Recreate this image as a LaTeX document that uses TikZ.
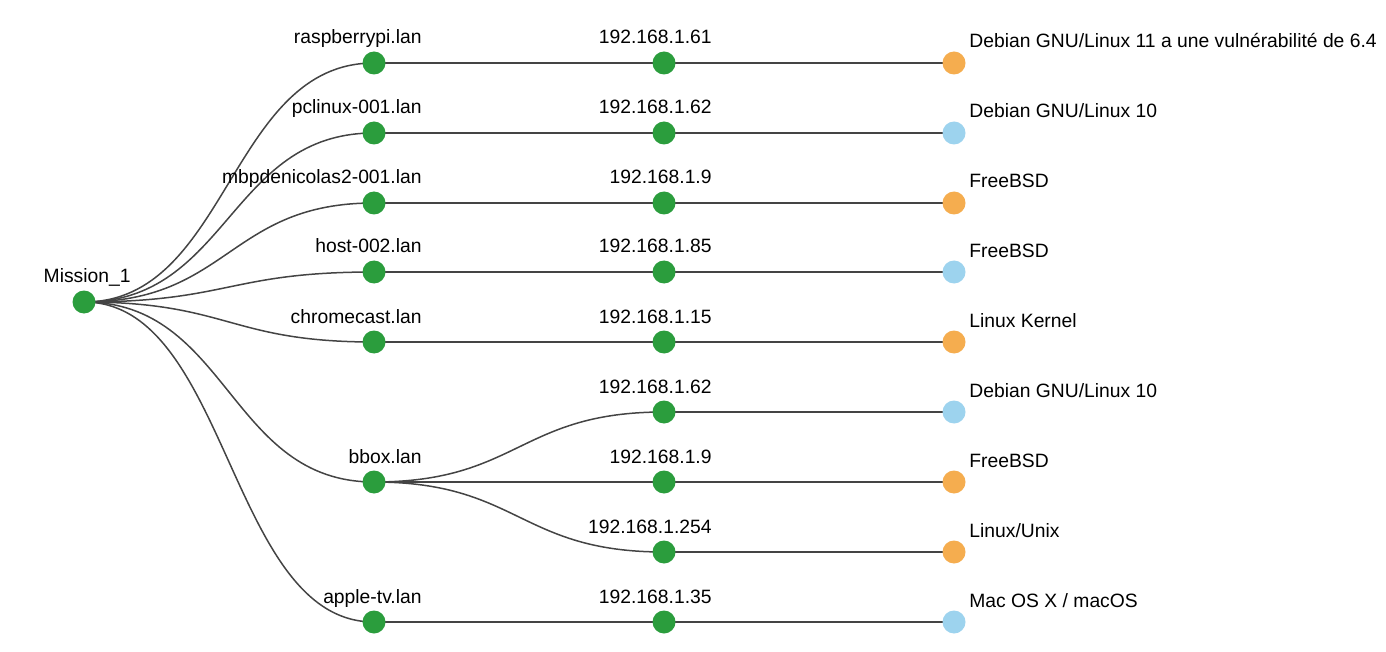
\documentclass[tikz,border=0pt]{standalone}
\usepackage{fontspec}
\setmainfont{Liberation Sans}
\usetikzlibrary{backgrounds,calc}
\definecolor{nodegreen}{HTML}{2B9D3D}
\definecolor{warnorange}{HTML}{F5AD4F}
\definecolor{infoblue}{HTML}{9DD3EE}
\definecolor{linkgray}{HTML}{444444}
\tikzset{
	dot/.style={circle, inner sep=0pt, minimum size=11.5pt},
	host/.style={dot, fill=nodegreen},
	warn/.style={dot, fill=warnorange},
	info/.style={dot, fill=infoblue},
	link/.style={draw=linkgray, line width=0.75pt},
	lbl/.style={anchor=base east, inner sep=0pt},
	oslbl/.style={anchor=base west, inner sep=0pt}
}
\newcommand{\treelink}[2]{%
	\draw[link] let \p1=(#1.center), \p2=(#2.center) in
		(\p1) .. controls ({(\x1+\x2)/2},\y1) and ({(\x1+\x2)/2},\y2) .. (\p2);}
\begin{document}
\begin{tikzpicture}[x=0.5pt, y=-0.5pt, font=\fontsize{9.65}{11}\selectfont]
	\useasboundingbox (0,0) rectangle (1386,652);
	% root
	\node[host] (root) at (84,302) {};
	\node[lbl] at (131,283) {Mission\_1};
	% hosts
	\foreach \k/\y/\t in {1/63/raspberrypi.lan, 2/133/pclinux-001.lan, 3/203/mbpdenicolas2-001.lan,
		4/272/host-002.lan, 5/342/chromecast.lan, 6/482/bbox.lan, 7/622/apple-tv.lan}{
		\node[host] (h\k) at (374,\y) {};
		\node[lbl] at (422,\y-19) {\t};
	}
	% addresses
	\foreach \k/\y/\t in {1/63/192.168.1.61, 2/133/192.168.1.62, 3/203/192.168.1.9, 4/272/192.168.1.85,
		5/342/192.168.1.15, 6/412/192.168.1.62, 7/482/192.168.1.9, 8/552/192.168.1.254, 9/622/192.168.1.35}{
		\node[host] (ip\k) at (664,\y) {};
		\node[lbl] at (712,\y-19) {\t};
	}
	% systems
	\foreach \k/\y/\s/\t in {1/63/warn/{Debian GNU/Linux 11 a une vulnérabilité de 6.4}, 2/133/info/{Debian GNU/Linux 10},
		3/203/warn/FreeBSD, 4/272/info/FreeBSD, 5/342/warn/Linux Kernel, 6/412/info/{Debian GNU/Linux 10},
		7/482/warn/FreeBSD, 8/552/warn/{Linux/Unix}, 9/622/info/{Mac OS X / macOS}}{
		\node[\s] (os\k) at (954,\y) {};
		\node[oslbl] at (969,\y-15) {\t};
	}
	% links
	\begin{scope}[on background layer]
		\foreach \k in {1,...,7} {\treelink{root}{h\k}}
		\foreach \k/\m in {1/1, 2/2, 3/3, 4/4, 5/5, 6/6, 7/6, 8/6, 9/7} {\treelink{h\m}{ip\k}}
		\foreach \k in {1,...,9} {\treelink{ip\k}{os\k}}
	\end{scope}
\end{tikzpicture}
\end{document}
